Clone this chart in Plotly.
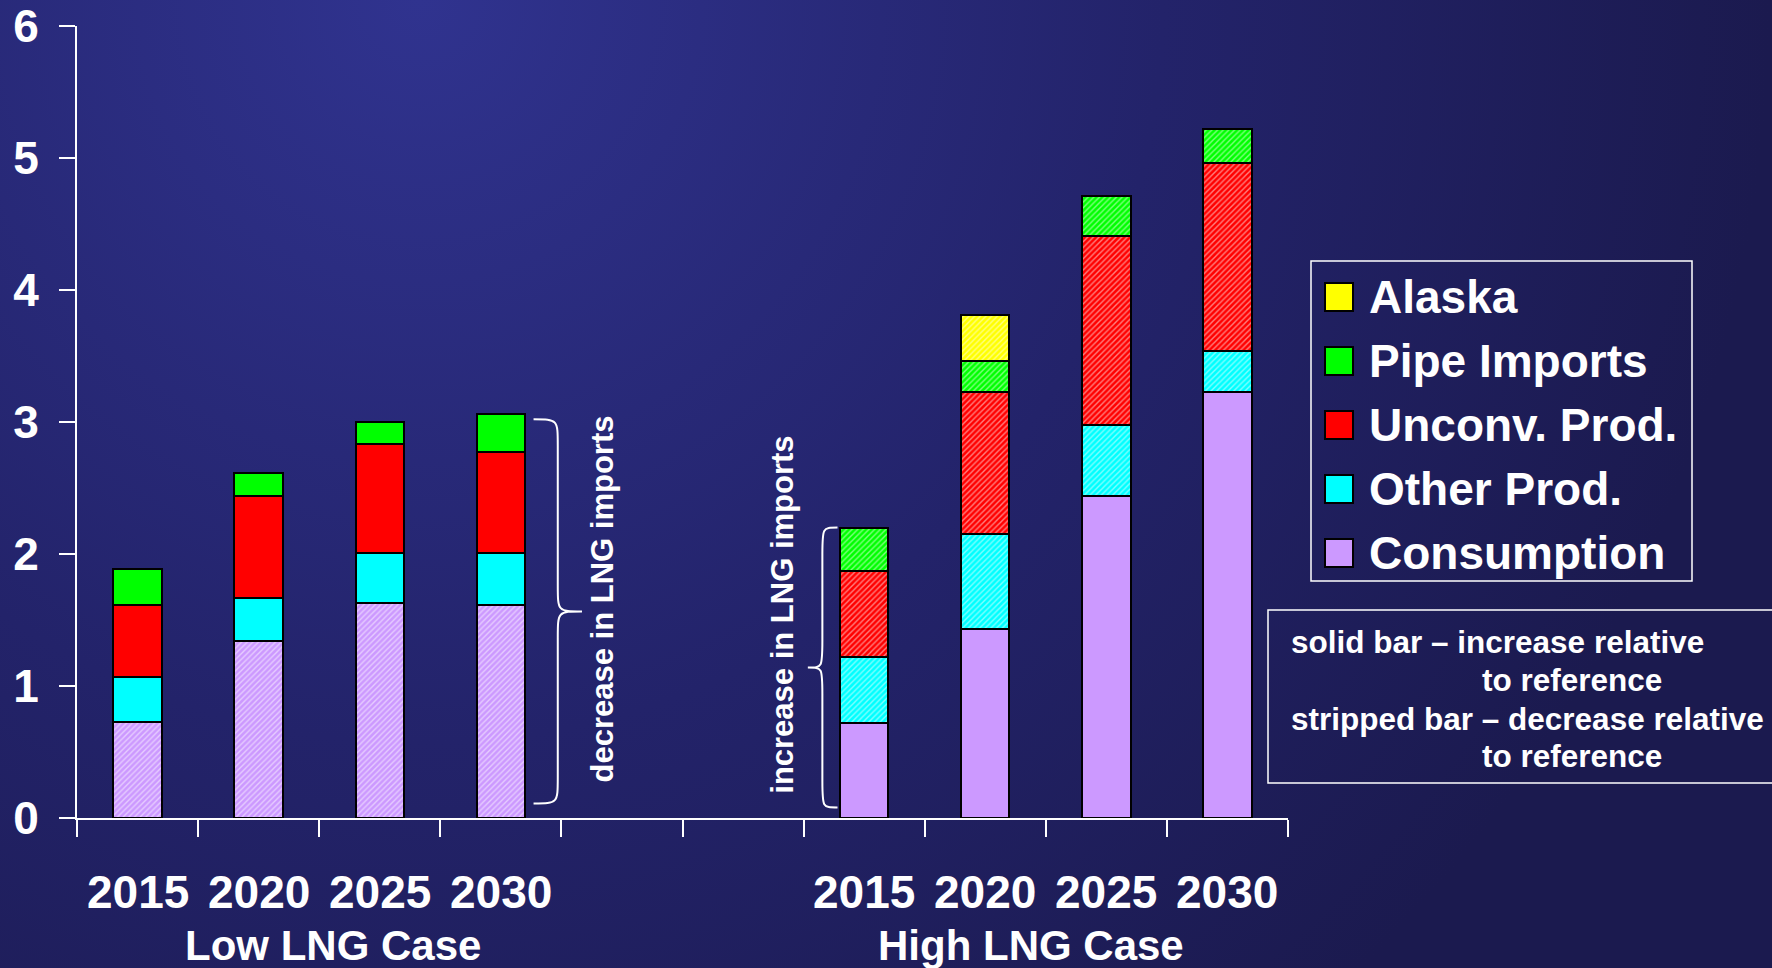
import base64
import plotly.graph_objects as go

W, H = 1772, 968

# ---------------- data ----------------
years = ["2015", "2020", "2025", "2030"]
cases = ["Low LNG Case", "High LNG Case"]
case_positions = [[0, 1, 2, 3], [6, 7, 8, 9]]   # slots on the x axis (4 and 5 are empty)

series_names = ["Consumption", "Other Prod.", "Unconv. Prod.", "Pipe Imports", "Alaska"]
series_colors = ["#CC99FF", "#00FFFF", "#FF0000", "#00FF00", "#FFFF00"]

consumption_low = [0.73, 1.34, 1.63, 1.61]
consumption_high = [0.72, 1.43, 2.44, 3.23]
other_low = [0.34, 0.33, 0.38, 0.40]
other_high = [0.50, 0.72, 0.54, 0.31]
unconv_low = [0.54, 0.77, 0.82, 0.76]
unconv_high = [0.65, 1.08, 1.43, 1.42]
pipe_low = [0.28, 0.17, 0.17, 0.29]
pipe_high = [0.33, 0.23, 0.30, 0.26]
alaska_low = [0, 0, 0, 0]
alaska_high = [0, 0.35, 0, 0]

# striped (decrease relative to reference) flags, per series
striped_low = [True, False, False, False, False]
striped_high = [False, True, True, True, True]

values_low = [consumption_low, other_low, unconv_low, pipe_low, alaska_low]
values_high = [consumption_high, other_high, unconv_high, pipe_high, alaska_high]

y_ticks = [0, 1, 2, 3, 4, 5, 6]

# ---------------- helpers ----------------
def px(x):
    return x / W

def py(y):
    return 1 - y / H

FONT = "Liberation Sans, Arial, sans-serif"

fig = go.Figure()

x_all = case_positions[0] + case_positions[1]
for i, name in enumerate(series_names):
    vals = values_low[i] + values_high[i]
    vals = [v if v != 0 else None for v in vals]
    pshape = ["/" if striped_low[i] else ""] * 4 + ["/" if striped_high[i] else ""] * 4
    fig.add_trace(go.Bar(
        x=x_all, y=vals, name=name, width=0.4,
        marker=dict(
            color=series_colors[i],
            line=dict(color="black", width=2),
            pattern=dict(shape=pshape, fgcolor="white", size=4, solidity=0.35, fillmode="overlay"),
        ),
        showlegend=False,
    ))

# ---------------- background gradient ----------------
svg = f'''<svg xmlns="http://www.w3.org/2000/svg" width="{W}" height="{H}" viewBox="0 0 {W} {H}" preserveAspectRatio="none">
<defs><radialGradient id="g" cx="420" cy="0" r="1350" gradientUnits="userSpaceOnUse">
<stop offset="0" stop-color="#30338f"/><stop offset="0.55" stop-color="#23236a"/><stop offset="1" stop-color="#1b1a4f"/>
</radialGradient></defs><rect width="{W}" height="{H}" fill="url(#g)"/></svg>'''
src = "data:image/svg+xml;base64," + base64.b64encode(svg.encode()).decode()

annotations = []
shapes = []

# year labels and case labels
case_label_x = [1.61, 7.38]
for c, case in enumerate(cases):
    for j, yr in enumerate(years):
        annotations.append(dict(x=case_positions[c][j], y=py(892), xref="x", yref="paper",
                                text=yr, showarrow=False, xanchor="center", yanchor="middle",
                                font=dict(family=FONT, size=46, color="white", weight="bold")))
    annotations.append(dict(x=case_label_x[c], y=py(945), xref="x", yref="paper",
                            text=case, showarrow=False, xanchor="center", yanchor="middle",
                            font=dict(family=FONT, size=42, color="white", weight="bold")))

# braces (data coordinates)
def brace(x_end, x_mid, x_tip, y_bot, y_top, r=0.2):
    ym = (y_bot + y_top) / 2
    return (f"M{x_end},{y_top} C{x_mid},{y_top} {x_mid},{y_top} {x_mid},{y_top - r} "
            f"L{x_mid},{ym + r} C{x_mid},{ym} {x_mid},{ym} {x_tip},{ym} "
            f"C{x_mid},{ym} {x_mid},{ym} {x_mid},{ym - r} "
            f"L{x_mid},{y_bot + r} C{x_mid},{y_bot} {x_mid},{y_bot} {x_end},{y_bot}")

low_total_2030 = sum(v[3] for v in values_low)
high_total_2015 = sum(v[0] for v in values_high)
shapes.append(dict(type="path", xref="x", yref="y",
                   path=brace(3.27, 3.47, 3.67, 0.11, low_total_2030 - 0.04),
                   line=dict(color="white", width=2)))
shapes.append(dict(type="path", xref="x", yref="y",
                   path=brace(5.78, 5.655, 5.535, 0.08, high_total_2015),
                   line=dict(color="white", width=2)))
annotations.append(dict(x=3.84, y=1.66, xref="x", yref="y", text="decrease in LNG imports",
                        textangle=-90, showarrow=False, xanchor="center", yanchor="middle",
                        font=dict(family=FONT, size=31, color="white", weight="bold")))
annotations.append(dict(x=5.33, y=1.54, xref="x", yref="y", text="increase in LNG imports",
                        textangle=-90, showarrow=False, xanchor="center", yanchor="middle",
                        font=dict(family=FONT, size=31, color="white", weight="bold")))

# manual legend
shapes.append(dict(type="rect", xref="paper", yref="paper", x0=px(1311), x1=px(1692),
                   y0=py(581), y1=py(261), line=dict(color="white", width=1.5)))
legend_order = ["Alaska", "Pipe Imports", "Unconv. Prod.", "Other Prod.", "Consumption"]
legend_y = [297, 361, 425, 489, 553]
for k, name in enumerate(legend_order):
    col = series_colors[series_names.index(name)]
    shapes.append(dict(type="rect", xref="paper", yref="paper", x0=px(1325), x1=px(1353),
                       y0=py(legend_y[k] + 14), y1=py(legend_y[k] - 14),
                       fillcolor=col, line=dict(color="black", width=2)))
    annotations.append(dict(x=px(1367), y=py(legend_y[k]), xref="paper", yref="paper",
                            text=name, showarrow=False, xanchor="left", yanchor="middle",
                            font=dict(family=FONT, size=46, color="white", weight="bold")))

# note box
shapes.append(dict(type="rect", xref="paper", yref="paper", x0=px(1268), x1=1.02,
                   y0=py(783), y1=py(610), line=dict(color="white", width=1.5)))
note_lines = ["solid bar \u2013 increase relative", "to reference",
              "stripped bar \u2013 decrease relative", "to reference"]
note_x = [1289, 1480, 1289, 1480]
note_y = [642, 680, 719, 756]
for t, xx, yy in zip(note_lines, note_x, note_y):
    annotations.append(dict(x=px(xx), y=py(yy), xref="paper", yref="paper", text=t,
                            showarrow=False, xanchor="left", yanchor="middle",
                            font=dict(family=FONT, size=31.5, color="white", weight="bold")))

fig.update_layout(
    width=W, height=H,
    margin=dict(l=0, r=0, t=0, b=0, pad=0),
    paper_bgcolor="#1e1d5a",
    plot_bgcolor="rgba(0,0,0,0)",
    barmode="stack",
    showlegend=False,
    images=[dict(source=src, xref="paper", yref="paper", x=0, y=1, sizex=1, sizey=1,
                 xanchor="left", yanchor="top", sizing="stretch", layer="below")],
    xaxis=dict(domain=[px(77), px(1288)], range=[-0.5, 9.5], automargin=False,
               tickmode="array", tickvals=[i - 0.5 for i in range(11)],
               ticktext=[""] * 11, ticks="outside", ticklen=17, tickwidth=2, tickcolor="white",
               showline=True, linecolor="white", linewidth=2, showgrid=False, zeroline=False,
               fixedrange=True),
    yaxis=dict(domain=[py(818), py(26)], range=[0, 6], automargin=False,
               tickmode="array", tickvals=y_ticks, ticktext=[str(v) for v in y_ticks],
               ticks="outside", ticklen=16, tickwidth=2, tickcolor="white",
               ticklabelstandoff=11, ticklabeloverflow="allow",
               tickfont=dict(family=FONT, size=46, color="white", weight="bold"),
               showline=True, linecolor="white", linewidth=2, showgrid=False, zeroline=False,
               fixedrange=True),
    annotations=annotations,
    shapes=shapes,
)

fig.write_html("out.html")
